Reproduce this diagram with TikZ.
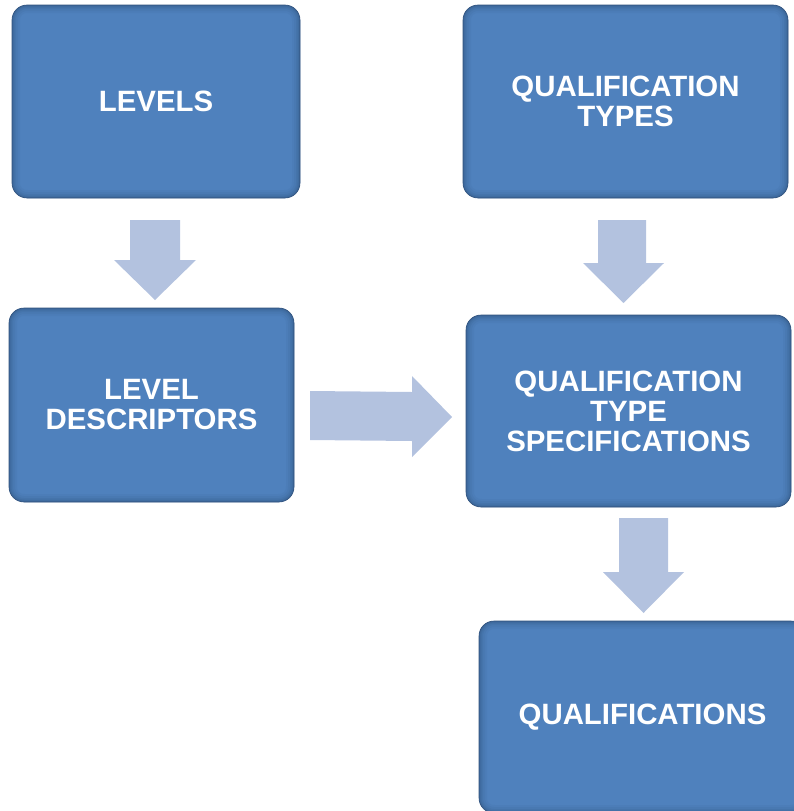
\documentclass[tikz,border=0pt]{standalone}
\usepackage{fontspec}
\setmainfont{Liberation Sans}
\definecolor{boxblue}{RGB}{79,129,189}
\definecolor{boxdark}{RGB}{48,82,125}
\definecolor{arrowblue}{RGB}{179,194,223}
\tikzset{
  fcbox/.style={
    rectangle, rounded corners=15pt, fill=boxblue, draw=boxdark, line width=0.6pt,
    text=white, align=center, inner sep=0pt,
    font=\bfseries\fontsize{29.4}{30}\selectfont,
    path picture={
      \foreach \w/\o in {16/0.07,12/0.09,8/0.12,5/0.16,2.5/0.22}{
        \draw[boxdark, opacity=\o, line width=\w pt, rounded corners=15pt]
          (path picture bounding box.south west) rectangle (path picture bounding box.north east);
      }
    }
  },
  blockarrow/.style={fill=arrowblue, draw=none}
}
\begin{document}
\begin{tikzpicture}[x=1pt,y=-1pt]
\useasboundingbox (0,0) rectangle (794,811);
\clip (0,0) rectangle (794,811);
\node[fcbox, minimum width=288pt, minimum height=193pt] (lev) at (156,101.5) {LEVELS};
\node[fcbox, minimum width=325pt, minimum height=193pt] (qt) at (625.5,101.5) {QUALIFICATION\\TYPES};
\node[fcbox, minimum width=285pt, minimum height=194pt] (ld) at (151.5,405) {LEVEL\\DESCRIPTORS};
\node[fcbox, minimum width=325pt, minimum height=192pt] (qts) at (628.5,411) {QUALIFICATION\\TYPE\\SPECIFICATIONS};
\node[fcbox, minimum width=327pt, minimum height=192pt] (q) at (642.5,717) {QUALIFICATIONS};
% block arrows
\fill[blockarrow] (130,220) -- (180,220) -- (180,260) -- (196,260) -- (155,300) -- (114,260) -- (130,260) -- cycle;
\fill[blockarrow] (598,220) -- (646,220) -- (646,263) -- (664,263) -- (623.5,303) -- (583,263) -- (598,263) -- cycle;
\fill[blockarrow] (619,518) -- (668,518) -- (668,572) -- (684,572) -- (643.5,613) -- (603,572) -- (619,572) -- cycle;
\fill[blockarrow] (310,391) -- (412,392) -- (412,376) -- (452,417) -- (412,457) -- (412,441) -- (310,440) -- cycle;
\end{tikzpicture}
\end{document}
